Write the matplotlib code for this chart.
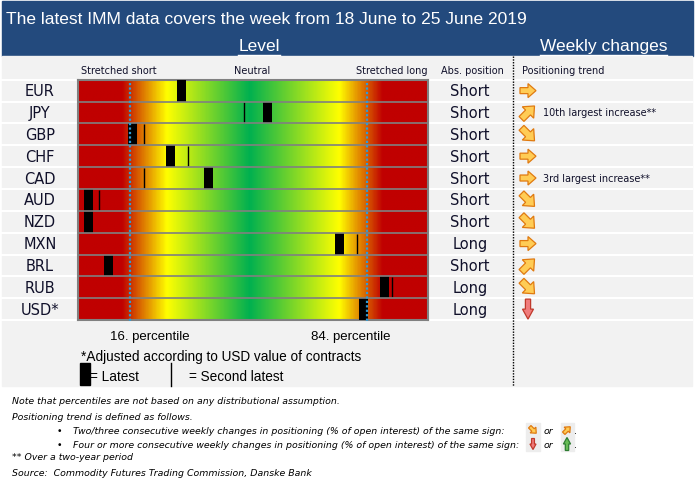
import numpy as np
import matplotlib.pyplot as plt
from matplotlib.colors import LinearSegmentedColormap
from matplotlib.patches import Rectangle, Polygon

# ---- data ----
currencies = ['EUR', 'JPY', 'GBP', 'CHF', 'CAD', 'AUD', 'NZD', 'MXN', 'BRL', 'RUB', 'USD*']
latest = [29.4, 54.1, 15.5, 26.4, 37.2, 2.8, 2.8, 74.7, 8.7, 87.6, 81.5]          # position on bar [0-100]
second_latest = [29.4, 47.5, 18.9, 31.5, 18.9, 6.0, 2.8, 79.8, 8.7, 89.8, 82.0]
abs_position = ['Short', 'Short', 'Short', 'Short', 'Short', 'Short', 'Short', 'Long', 'Short', 'Long', 'Long']
trend = ['right', 'upright', 'downright', 'right', 'right', 'downright', 'downright',
         'right', 'upright', 'downright', 'down']
trend_note = ['', '10th largest increase**', '', '', '3rd largest increase**', '', '', '', '', '', '']
pct_pos = [14.9, 82.5]
pct_labels = ['16. percentile', '84. percentile']

title = 'The latest IMM data covers the week from 18 June to 25 June 2019'
notes = ['Note that percentiles are not based on any distributional assumption.',
         'Positioning trend is defined as follows.']
bullets = ['Two/three consecutive weekly changes in positioning (% of open interest) of the same sign:',
           'Four or more consecutive weekly changes in positioning (% of open interest) of the same sign:']
footer = ['** Over a two-year period',
          'Source:  Commodity Futures Trading Commission, Danske Bank']

# ---- layout (pixels) ----
W, H = 695, 489
bar_l, bar_r = 78.3, 428.0
row_top, row_h = 80.7, 21.85
n = len(currencies)
pct_label_x = [150, 351]
BLUE = '#234A7D'
PANEL = '#F2F2F2'
TXT = '#10102a'
NARROW = ['Liberation Sans', 'DejaVu Sans']


def row_y(i):
    return row_top + (i + 0.5) * row_h


def draw_arrow(axis, cx, cy, kind, s=1.0, face='#FFCC55', edge='#E07A10'):
    # block arrow pointing right, then rotated
    pts = np.array([(-8, -3), (0, -3), (0, -7), (8, 0), (0, 7), (0, 3), (-8, 3)], float)
    if kind == 'down' or kind == 'up':
        pts = np.array([(-10, -2.6), (0, -2.6), (0, -5.5), (10, 0), (0, 5.5), (0, 2.6), (-10, 2.6)], float)
    ang = {'right': 0, 'upright': -45, 'downright': 45, 'down': 90, 'up': -90}[kind]
    if 'right' in kind and kind != 'right':
        s = s * 1.15
    a = np.deg2rad(ang)
    rot = np.array([[np.cos(a), -np.sin(a)], [np.sin(a), np.cos(a)]])
    p = pts @ rot.T * s + np.array([cx, cy])
    axis.add_patch(Polygon(p, closed=True, facecolor=face, edgecolor=edge, lw=0.9, zorder=5))


fig = plt.figure(figsize=(6.95, 4.89), dpi=100)
lay = fig.add_axes([0, 0, 1, 1])
lay.set_xlim(0, W)
lay.set_ylim(H, 0)
lay.axis('off')

# backgrounds
lay.add_patch(Rectangle((2, 2), 691, 55, color=BLUE, zorder=0))
lay.add_patch(Rectangle((2, 57), 690, 330, color=PANEL, zorder=0))
for k in range(n + 1):
    lay.plot([2, 692], [row_top + k * row_h] * 2, color='white', lw=1.5, zorder=1)
lay.plot([512.5, 512.5], [57, 387], color='black', lw=1.0, ls=(0, (1, 1)), zorder=2)

# header
lay.text(6, 20, title, color='white', fontsize=12.5, family=NARROW, va='center')
t_level = lay.text(259, 46.5, 'Level', color='white', fontsize=12.5, family=NARROW, ha='center', va='center')
t_week = lay.text(603.5, 46.5, 'Weekly changes', color='white', fontsize=12.5, family=NARROW,
                  ha='center', va='center')
# underline under the two headings
fig.canvas.draw()
rend = fig.canvas.get_renderer()
for t in [t_level, t_week]:
    bb = t.get_window_extent(rend).transformed(lay.transData.inverted())
    lay.plot([bb.x0, bb.x1], [55.5, 55.5], color='white', lw=1.0)

lay.text(81, 71, 'Stretched short', fontsize=7, color=TXT, va='center')
lay.text(252, 71, 'Neutral', fontsize=7, color=TXT, ha='center', va='center')
lay.text(428, 71, 'Stretched long', fontsize=7, color=TXT, ha='right', va='center')
lay.text(472, 71, 'Abs. position', fontsize=7, color=TXT, ha='center', va='center')
lay.text(522, 71, 'Positioning trend', fontsize=7, color=TXT, va='center')

# rows: labels, positions, trends
for i, c in enumerate(currencies):
    y = row_y(i)
    lay.text(40, y, c, fontsize=10.5, color=TXT, ha='center', va='center')
    lay.text(470, y, abs_position[i], fontsize=10.5, color=TXT, ha='center', va='center')
    if trend[i] == 'down':
        draw_arrow(lay, 528, y, 'down', face='#F07C7C', edge='#C0392B')
    else:
        draw_arrow(lay, 528, y, trend[i])
    if trend_note[i]:
        lay.text(543, y, trend_note[i], fontsize=7, color=TXT, va='center')

# ---- gradient bar ----
ax = fig.add_axes([bar_l / W, 1 - (row_top + n * row_h) / H, (bar_r - bar_l) / W, n * row_h / H])
cmap = LinearSegmentedColormap.from_list('pos', [(0, '#C00000'), (0.124, '#C00000'), (0.253, '#FFFF00'),
                                                (0.49, '#00B050'), (0.748, '#FFFF00'), (0.872, '#C00000'),
                                                (1, '#C00000')])
ax.imshow(np.linspace(0, 1, 600)[None, :], cmap=cmap, extent=[0, 100, n, 0], aspect='auto',
          interpolation='bilinear')
ax.set_xlim(0, 100)
ax.set_ylim(n, 0)
rows = np.arange(n)
ax.vlines(second_latest, rows + 0.04, rows + 0.96, colors='black', lw=1.0, zorder=3)
ax.barh(rows + 0.5, 2.6, left=np.array(latest) - 1.3, height=1.0, color='black', zorder=4)
ax.hlines(np.arange(1, n), 0, 100, colors='#808080', lw=1.2, zorder=5)
ax.vlines(pct_pos, 0.15, n + 0.15, colors='#2E9BD6', linestyles=(0, (1, 1)), lw=1.6, zorder=6,
          clip_on=False)
ax.set_xticks([])
ax.set_yticks([])
for sp in ax.spines.values():
    sp.set_color('#808080')
    sp.set_linewidth(1.5)

# below bar
for xl, lab in zip(pct_label_x, pct_labels):
    lay.text(xl, 337, lab, fontsize=9.5, family=NARROW, color='black', ha='center', va='center')
lay.text(81, 357, '*Adjusted according to USD value of contracts', fontsize=9.8, family=NARROW,
         color='black', va='center')
lay.add_patch(Rectangle((80, 364), 10, 22, color='black', zorder=3))
lay.text(90, 377, '= Latest', fontsize=9.8, family=NARROW, color='black', va='center')
lay.plot([171, 171], [364, 387], color='black', lw=1.0)
lay.text(189, 377, '= Second latest', fontsize=9.8, family=NARROW, color='black', va='center')

# notes
fs = 6.75
lay.text(12, 402, notes[0], fontsize=fs, style='italic', va='center')
lay.text(12, 417, notes[1], fontsize=fs, style='italic', va='center')
for j, (b, yy) in enumerate(zip(bullets, [431, 445])):
    lay.text(57, yy, '\u2022', fontsize=fs, va='center')
    lay.text(73, yy, b, fontsize=fs, style='italic', va='center')
    lay.add_patch(Rectangle((526, yy - 7), 14, 14, color='#EDEDED', zorder=1))
    lay.add_patch(Rectangle((561, yy - 7), 13, 14, color='#EDEDED', zorder=1))
    lay.text(544, yy, 'or', fontsize=fs, style='italic', va='center')
    lay.text(574, yy, '.', fontsize=fs, va='center')
    if j == 0:
        draw_arrow(lay, 533, yy, 'downright', s=0.5)
        draw_arrow(lay, 567, yy, 'upright', s=0.5)
    else:
        draw_arrow(lay, 533, yy, 'down', s=0.55, face='#F07C7C', edge='#C0392B')
        draw_arrow(lay, 567, yy, 'up', s=0.65, face='#66BB55', edge='#2E7D32')
lay.text(12, 458, footer[0], fontsize=fs, style='italic', va='center')
lay.text(12, 473, footer[1], fontsize=fs, style='italic', va='center')

fig.savefig('out.png', dpi=100)
